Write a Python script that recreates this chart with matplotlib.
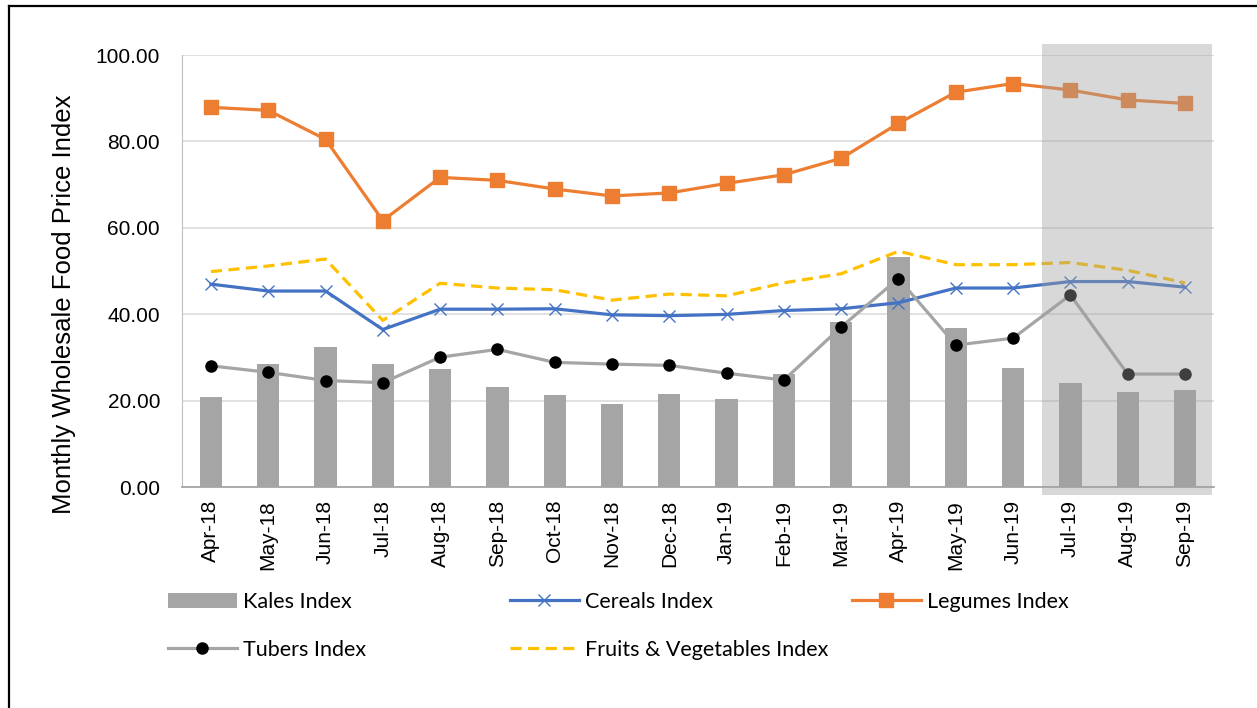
import matplotlib
matplotlib.use("Agg")
import matplotlib.pyplot as plt
from matplotlib.patches import Rectangle, Patch
from matplotlib.lines import Line2D
import numpy as np

# values
months = ['Apr-18', 'May-18', 'Jun-18', 'Jul-18', 'Aug-18', 'Sep-18', 'Oct-18', 'Nov-18', 'Dec-18',
          'Jan-19', 'Feb-19', 'Mar-19', 'Apr-19', 'May-19', 'Jun-19', 'Jul-19', 'Aug-19', 'Sep-19']
kales = [21.0, 28.5, 32.4, 28.6, 27.3, 23.2, 21.3, 19.3, 21.6, 20.4, 26.2, 38.2, 53.2, 36.9, 27.6, 24.2, 22.1, 22.5]
cereals = [47.0, 45.4, 45.4, 36.5, 41.2, 41.2, 41.3, 39.9, 39.7, 40.0, 40.9, 41.3, 42.7, 46.1, 46.1, 47.6, 47.6, 46.3]
legumes = [87.9, 87.2, 80.5, 61.7, 71.7, 71.0, 69.0, 67.4, 68.1, 70.3, 72.3, 76.1, 84.2, 91.4, 93.4, 91.9, 89.6, 88.8]
tubers = [28.1, 26.6, 24.7, 24.2, 30.1, 31.9, 28.9, 28.5, 28.2, 26.4, 24.8, 37.1, 48.3, 32.9, 34.5, 44.5, 26.2, 26.2]
fruits_veg = [49.9, 51.2, 52.8, 38.6, 47.2, 46.1, 45.7, 43.3, 44.7, 44.3, 47.3, 49.4, 54.6, 51.5, 51.5, 52.0, 50.2, 47.3]
yticks = [0, 20, 40, 60, 80, 100]
shade_from = 'Jul-19'

ORANGE = '#ED7D31'
BLUE = '#4472C4'
GRAY = '#A5A5A5'
YELLOW = '#FFC000'

plt.rcParams['font.family'] = ['Liberation Sans', 'DejaVu Sans']

fig = plt.figure(figsize=(12.57, 7.08), dpi=100)
ax = fig.add_axes([0.1450, 0.3117, 0.8205, 0.6106])

x = np.arange(len(months))
ax.bar(x, kales, width=0.39, color=GRAY, zorder=2)
ax.plot(x, cereals, color=BLUE, lw=2.3, marker='x', ms=9, mew=1.0, zorder=3)
ax.plot(x, legumes, color=ORANGE, lw=2.3, marker='s', ms=9.5, zorder=3)
ax.plot(x, tubers, color=GRAY, lw=2.3, marker='o', ms=8, mfc='black', mec='black', zorder=3)
ax.plot(x, fruits_veg, color=YELLOW, lw=2.3, ls=(0, (3.5, 2)), zorder=3)

# translucent highlight over the last three months
i0 = months.index(shade_from)
x_left = i0 - 0.5
x_right = len(months) - 0.53
ax.add_patch(Rectangle((x_left, -1.7), x_right - x_left, 104.3,
                       facecolor=(159/255, 159/255, 159/255), alpha=0.4,
                       edgecolor='none', zorder=5, clip_on=False))

ax.set_xlim(-0.5, len(months) - 0.5)
ax.set_ylim(0, 100)
ax.set_yticks(yticks)
ax.set_yticklabels([f'{v:.2f}' for v in yticks], fontsize=15)
ax.set_xticks(x)
ax.set_xticklabels(months, rotation=90, fontsize=15)
ax.tick_params(axis='both', length=0)
ax.tick_params(axis='y', pad=16)
ax.tick_params(axis='x', pad=9)
ax.grid(axis='y', color='#d9d9d9', lw=1.1, zorder=0)
ax.set_axisbelow(True)
for s in ['top', 'right']:
    ax.spines[s].set_visible(False)
ax.spines['left'].set_color('#bfbfbf')
ax.spines['bottom'].set_color('#a6a6a6')
ax.spines['bottom'].set_linewidth(1.3)

fig.text(64 / 1257, 1 - 304 / 708, 'Monthly Wholesale Food Price Index', rotation=90,
         ha='center', va='center', fontsize=18.5)

# legend: three columns placed by hand
h_kales = Patch(facecolor=GRAY, edgecolor='none')
h_cereals = Line2D([], [], color=BLUE, lw=2.3, marker='x', ms=9, mew=1.0)
h_legumes = Line2D([], [], color=ORANGE, lw=2.3, marker='s', ms=9.5)
h_tubers = Line2D([], [], color=GRAY, lw=2.3, marker='o', ms=8, mfc='black', mec='black')
h_fv = Line2D([], [], color=YELLOW, lw=2.3, ls=(0, (3.5, 2)))

cols = [([h_kales, h_tubers], ['Kales Index', 'Tubers Index'], 168),
        ([h_cereals, h_fv], ['Cereals Index', 'Fruits & Vegetables Index'], 510),
        ([h_legumes], ['Legumes Index'], 852)]
for handles, labels, px in cols:
    leg = fig.legend(handles, labels, loc='upper left',
                     bbox_to_anchor=(px / 1257, 1 - 592 / 708),
                     frameon=False, borderpad=0, borderaxespad=0,
                     handlelength=3.2, handletextpad=0.3, labelspacing=1.3,
                     prop={'family': 'Lato', 'size': 15.5})

# outer frame of the original picture (top and left edges visible)
fig.add_artist(Line2D([9 / 1257, 9 / 1257], [0, 1 - 6 / 708], color='black', lw=1.6,
                      transform=fig.transFigure))
fig.add_artist(Line2D([9 / 1257, 1], [1 - 6 / 708, 1 - 6 / 708], color='black', lw=1.6,
                      transform=fig.transFigure))

fig.savefig('out.png', dpi=100)
